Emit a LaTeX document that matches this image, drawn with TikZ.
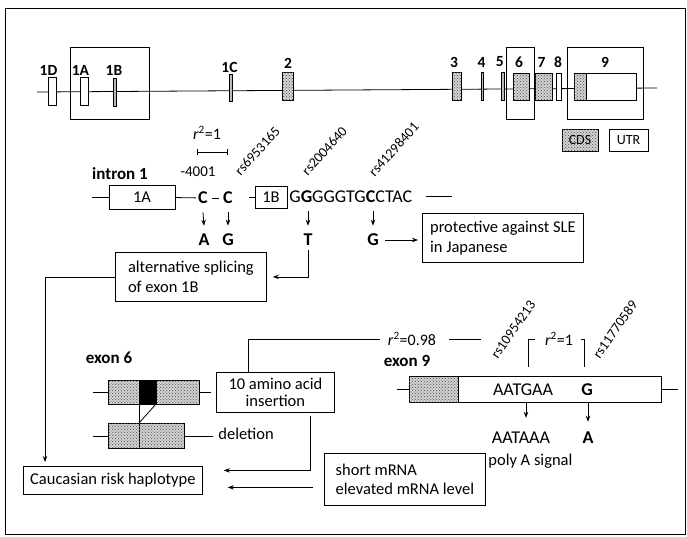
\documentclass[tikz,border=0pt]{standalone}
\usepackage{fontspec}
\setmainfont{Carlito}
\usetikzlibrary{arrows.meta,patterns}
\begin{document}
\begin{tikzpicture}[x=1pt,y=-1pt,line width=0.8pt,
  arr/.style={-{Stealth[length=6pt,width=4.5pt]}},
  txt/.style={inner sep=0pt,font=\fontsize{16.5}{19.5}\selectfont},
  bold head/.style={inner sep=0pt,font=\fontsize{17}{19}\selectfont\bfseries},
  exlbl/.style={inner sep=0pt,font=\fontsize{15.5}{17}\selectfont\bfseries},
  seqtxt/.style={inner sep=0pt,font=\fontsize{18}{20}\selectfont},
  bseq/.style={inner sep=0pt,font=\fontsize{18}{20}\selectfont\bfseries},
  rslbl/.style={inner sep=0pt,anchor=south west,font=\fontsize{14}{16}\selectfont},
  rsq/.style={inner sep=0pt,font=\fontsize{16}{18}\selectfont},
  infobox/.style={draw,font=\fontsize{16.5}{19.5}\selectfont,align=left,inner xsep=6pt,inner ysep=0pt,anchor=north west},
  white exon/.style={draw,fill=white},
  thin exon/.style={draw,fill=gray!55},
  cds/.style={draw,fill=gray!35,postaction={pattern=crosshatch dots,pattern color=gray!60!black}},
]
\useasboundingbox (0,0) rectangle (687,536);
\draw[line width=1pt] (5,8) rectangle (685,534);

% ---------------- gene map ----------------
\coordinate (gL) at (37,92);
\coordinate (gR) at (657,88);
\draw (gL) -- (gR);
\draw (70,47) rectangle (149,119);
\draw (506,47) rectangle (534,119);
\draw (567,47) rectangle (643,119);
\draw[white exon] (48,77) rectangle (56,105);
\draw[white exon] (80,77) rectangle (88,105);
\draw[thin exon] (113,78) rectangle (116,106);
\draw[thin exon] (229,74) rectangle (232,101);
\draw[cds] (282,72) rectangle (293,100);
\draw[cds] (452,72) rectangle (461,100);
\draw[thin exon] (481,72) rectangle (483.5,100);
\draw[thin exon] (501,72) rectangle (504,100);
\draw[cds] (513,73) rectangle (529,100);
\draw[cds] (535,73) rectangle (552,100);
\draw[white exon] (556,73) rectangle (561,100);
\draw[white exon] (574,73) rectangle (636,100);
\draw[cds] (574,73) rectangle (586,100);

\node[exlbl] (l1D) at (48.5,70.5) {1D};
\node[exlbl] (l1A) at (80.5,70.5) {1A};
\node[exlbl] (l1B) at (114,70.5) {1B};
\node[exlbl] (l1C) at (229.5,67) {1C};
\node[exlbl] (l2) at (288,63) {2};
\node[exlbl] (l3) at (454,62) {3};
\node[exlbl] (l4) at (481.5,62) {4};
\node[exlbl] (l5) at (499.7,62) {5};
\node[exlbl] (l6) at (519,62) {6};
\node[exlbl] (l7) at (541.5,62) {7};
\node[exlbl] (l8) at (558,62) {8};
\node[exlbl] (l9) at (605,62) {9};

\node[cds,minimum width=36pt,minimum height=22pt,inner sep=0pt,font=\fontsize{14}{16}\selectfont] (lcds) at (580,140) {CDS};
\node[draw,minimum width=39pt,minimum height=22pt,inner sep=0pt,font=\fontsize{14}{16}\selectfont] (lutr) at (628.5,140) {UTR};

% ---------------- intron 1 ----------------
\node[bold head] (intron) at (120,174) {intron 1};
\node[rsq] (r2a) at (207,133) {\textit{r}\textsuperscript{2}=1};
\draw (197,149) -- (197,155) (197,152) -- (227,152) (227,149) -- (227,155);
\node[rsq,font=\fontsize{15}{17}\selectfont] (m4001) at (198,172) {-4001};

\coordinate (iL) at (92,197);
\node[draw,minimum width=66pt,minimum height=24pt,inner sep=0pt,font=\fontsize{16.5}{18}\selectfont] (b1A) at (142,197) {1A};
\node[bseq] (c1) at (203,198) {C};
\node[bseq] (c2) at (228,198) {C};
\coordinate (b1Bin) at (249,197);
\node[draw,minimum width=32pt,minimum height=22pt,inner sep=0pt,font=\fontsize{16.5}{18}\selectfont] (b1B) at (271,197) {1B};
\node[seqtxt,anchor=west] (seq) at (289,197) {G\textbf{G}GGGTG\textbf{C}CTAC};
\coordinate (iR1) at (426,196);
\coordinate (iR2) at (452,196);
\draw (iL) -- (b1A);
\draw[shorten >=2pt] (b1A) -- (c1);
\draw[line width=1pt] ([xshift=3.5pt]c1.east) -- ([xshift=-3.5pt]c2.west);
\draw (b1Bin) -- (b1B);
\draw (iR1) -- (iR2);

\node[rslbl,rotate=48] (rs1) at (241,177) {rs6953165};
\node[rslbl,rotate=48] (rs2) at (308,177) {rs2004640};
\node[rslbl,rotate=48] (rs3) at (375,178) {rs41298401};

\node[bseq] (a1) at (204,240) {A};
\node[bseq] (g1) at (228,240) {G};
\node[bseq] (t1) at (308,240) {T};
\node[bseq] (g2) at (373,240) {G};
\draw[arr] ([yshift=-8pt]c1.south) -- ([yshift=8pt]a1.north);
\draw[arr] ([yshift=-8pt]c2.south) -- ([yshift=8pt]g1.north);
\draw[arr] ([xshift=19pt,yshift=-8pt]seq.south west) -- ([yshift=8pt]t1.north);
\draw[arr] ([xshift=84pt,yshift=-8pt]seq.south west) -- ([yshift=8pt]g2.north);

\node[infobox,minimum width=161pt,minimum height=49pt] (prot) at (422,213) {protective against SLE\\in Japanese};
\draw[arr] ([xshift=6pt]g2.east) -- ([xshift=-4pt]g2.east -| prot.west);

\node[infobox,minimum width=151pt,minimum height=49pt] (alt) at (115,252) {alternative splicing\\of exon 1B};
\draw[arr] ([yshift=-4pt]t1.south) |- ([xshift=6pt]alt.east);

\node[infobox,align=center,minimum width=179pt,minimum height=28pt] (cau) at (23,466) {Caucasian risk haplotype};
\draw[arr] (alt.west) -| ([xshift=22pt,yshift=4pt]cau.north west);

% ---------------- exon 6 ----------------
\node[bold head] (ex6) at (109,358) {exon 6};
\draw (93,392) -- (108,392);
\draw (199,392) -- (211,392);
\draw[cds] (108,380) rectangle (139,404);
\draw[fill=black] (139,380) rectangle (156,404);
\draw[cds] (156,380) rectangle (199,404);
\draw (93,436) -- (108,436);
\draw (184,436) -- (213,436);
\draw[cds] (108,423) rectangle (139,448);
\draw[cds] (139,423) rectangle (184,448);
\draw (139,404) -- (139,423);
\draw (156,404) -- (139,423);
\node[txt,anchor=west] (del) at (218,434) {deletion};

\node[infobox,align=center,minimum width=118pt,minimum height=40pt,font=\fontsize{16.5}{17.5}\selectfont] (aa) at (216,372) {10 amino acid\\insertion};
\node[rsq] (r98) at (412,339) {\textit{r}\textsuperscript{2}=0.98};
\draw ([xshift=-27pt]aa.north) |- ([xshift=-8pt]r98.west);
\draw ([xshift=13pt]r98.east) -- ++(32,0);
\draw[arr] ([xshift=35pt,yshift=-3pt]aa.south) |- ([xshift=21pt,yshift=10pt]cau.east);

\node[infobox,minimum width=161pt,minimum height=52pt] (short) at (324,453) {short mRNA\\elevated mRNA level};
\draw[arr] ([xshift=-11pt,yshift=-8pt]short.west) -- ([xshift=25pt,yshift=-7pt]cau.east);

% ---------------- exon 9 ----------------
\node[bold head] (ex9) at (407,361) {exon 9};
\draw (397,389) -- (409,389);
\draw (661,389) -- (678,389);
\draw[white exon] (409,376) rectangle (661,402);
\draw[cds] (409,376) rectangle (458,402);
\node[seqtxt] (m1) at (523,390) {AATGAA};
\node[bseq] (g9) at (587,390) {G};
\node[seqtxt] (m2) at (521,438) {AATAAA};
\node[bseq] (a9) at (588,438) {A};
\node[txt,anchor=west] (poly) at (488,461) {poly A signal};
\draw[arr] ([xshift=3pt,yshift=-7pt]m1.south) -- ([xshift=5pt,yshift=14pt]m2.north);
\draw[arr] ([xshift=1pt,yshift=-7pt]g9.south) -- ([yshift=10pt]a9.north);

\node[rsq] (r91) at (559,339) {\textit{r}\textsuperscript{2}=1};
\draw ([xshift=-10pt]r91.west) -| ++(-6,28);
\draw ([xshift=8pt]r91.east) -| ++(3,28);
\node[rslbl,rotate=55] (rs4) at (498,360) {rs10954213};
\node[rslbl,rotate=55] (rs5) at (600,360) {rs11770589};
\end{tikzpicture}
\end{document}
